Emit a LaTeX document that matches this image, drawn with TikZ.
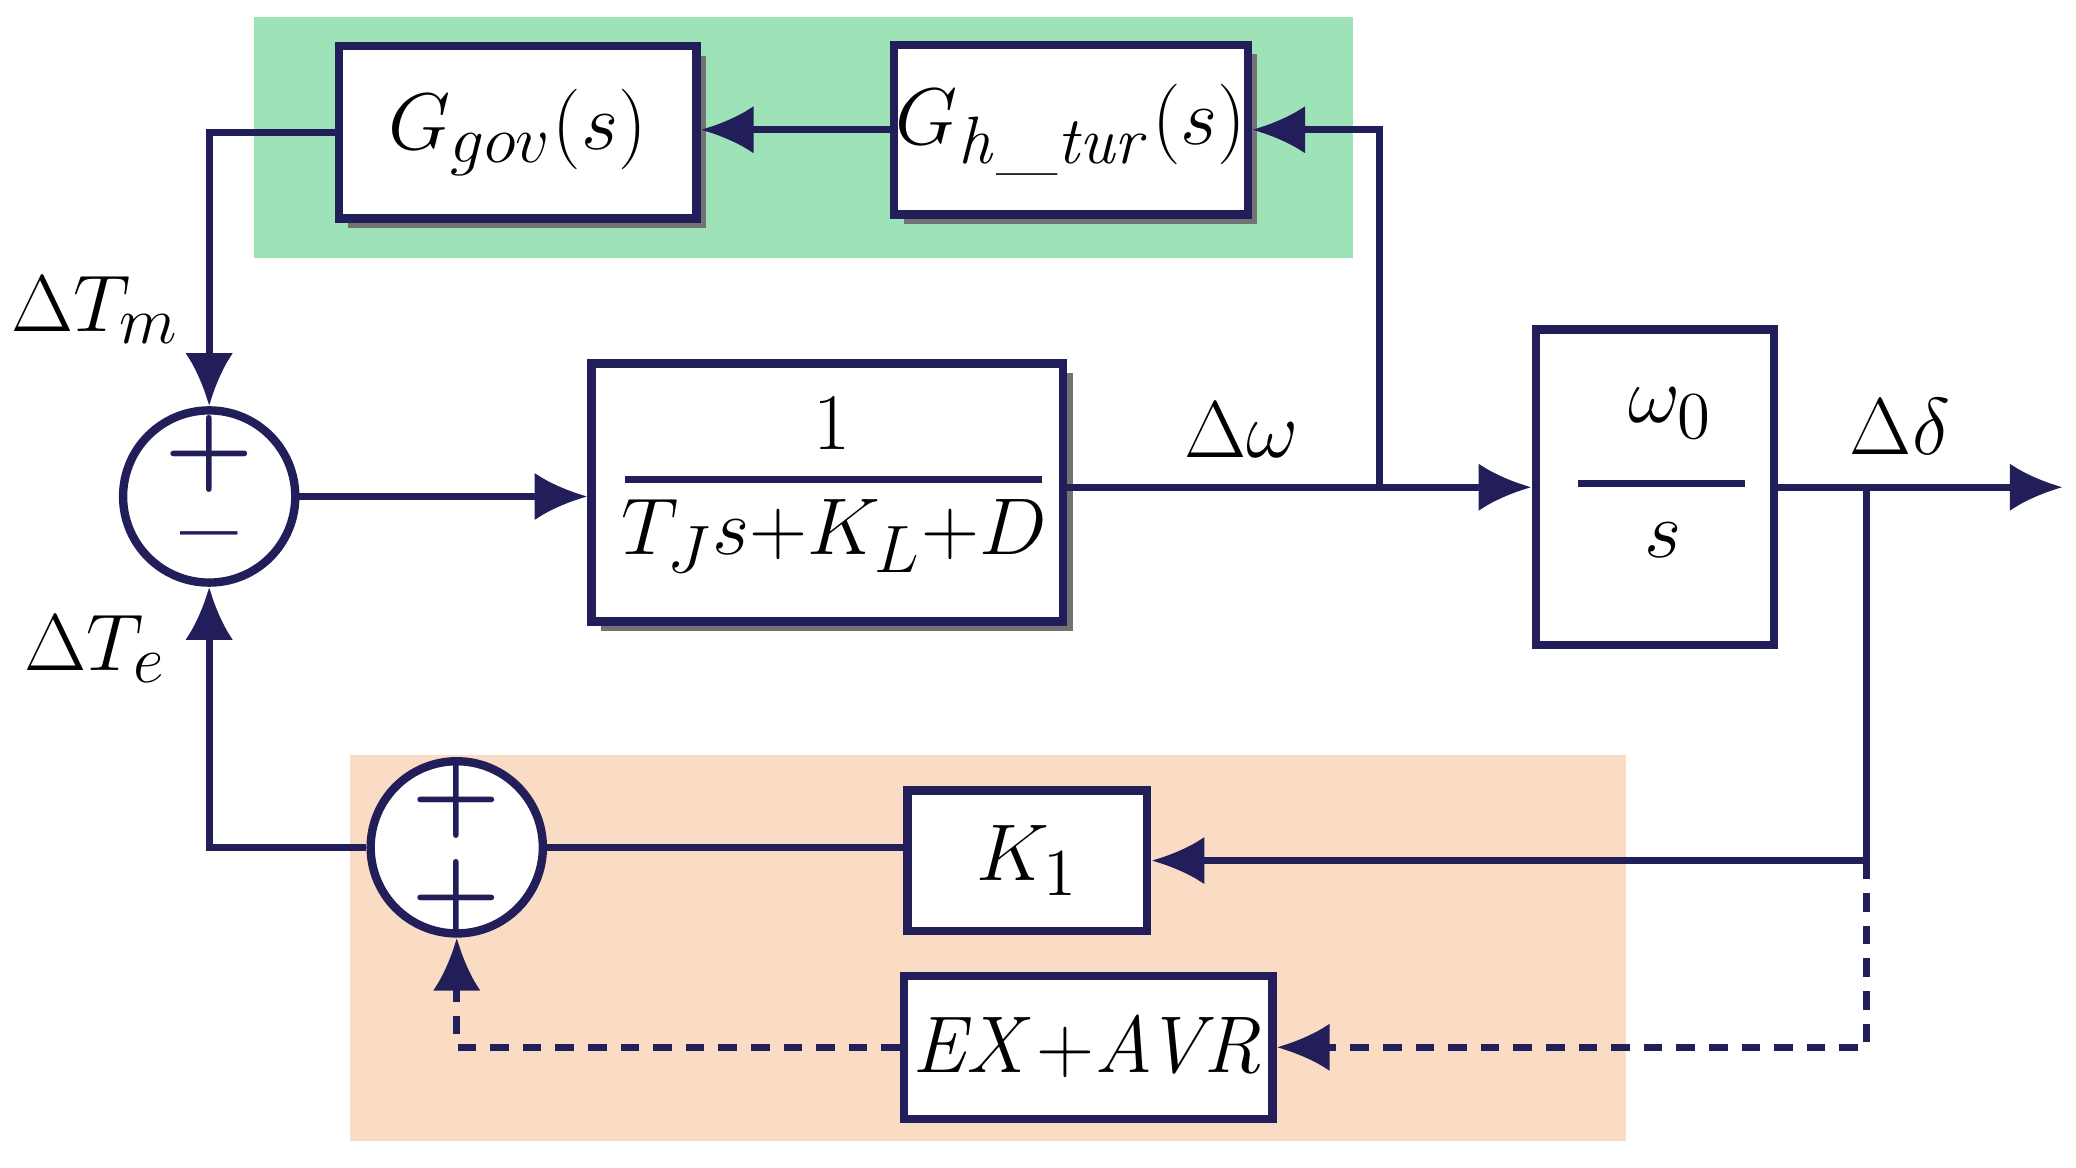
\documentclass[tikz,border=0pt]{standalone}
\usetikzlibrary{arrows.meta,shadows}
\begin{document}
\begin{tikzpicture}[x=0.01cm,y=-0.01cm,
  ln/.style={draw=navy,line width=1.5pt},
  arr/.style={ln,-{Latex[length=0.4cm,width=0.36cm]}},
  dsh/.style={dash pattern=on 4pt off 3pt},
  blk/.style={draw=navy,line width=1.8pt,fill=white,inner sep=0pt,font=\fontsize{19}{22}\selectfont},
  shd/.style={blk,drop shadow={shadow xshift=0.07cm,shadow yshift=-0.07cm,fill=black!55,opacity=1}},
  sum/.style={draw=navy,line width=1.8pt,fill=white,circle,minimum size=1.3cm,inner sep=0pt},
  sgn/.style={navy,font=\fontsize{22}{24}\selectfont\bfseries},
  lbl/.style={font=\fontsize{19}{22}\selectfont}]
\definecolor{navy}{HTML}{221E5A}
\definecolor{gbg}{HTML}{9EE3B8}
\definecolor{pbg}{HTML}{FADCC4}
\useasboundingbox (0,0) rectangle (1568,882);
\fill[gbg] (192,13) rectangle (1022,195);
\fill[pbg] (264,570) rectangle (1228,862);
% blocks
\node[shd,minimum width=2.7cm,minimum height=1.3cm] (gov) at (391,100) {$G_{gov}(s)$};
\node[shd,minimum width=2.67cm,minimum height=1.28cm] (tur) at (809,98) {$G_{\mathit{h\_tur}}(s)$};
\node[shd,minimum width=3.56cm,minimum height=1.95cm] (main) at (625,372) {};
\draw[navy,line width=1.5pt] (472,362) -- (787,362);
\node[lbl] (one) at (628,320) {$1$};
\node[lbl] (den) at (630,405) {$T_J s{+}K_L{+}D$};
\node[blk,minimum width=1.8cm,minimum height=2.38cm] (om) at (1250,368) {};
\draw[navy,line width=1.5pt] (1192,365) -- (1318,365);
\node[lbl] (omn) at (1262,312) {$\omega_0$};
\node[lbl] (oms) at (1256,408) {$s$};
\node[blk,minimum width=1.81cm,minimum height=1.06cm] (k1) at (776,650) {$K_1$};
\node[blk,minimum width=2.78cm,minimum height=1.08cm,font=\fontsize{17}{20}\selectfont] (ex) at (822,791) {$\mathit{EX}{+}\mathit{AVR}$};
\node[sum] (s1) at (158,375) {};
\node[sum] (s2) at (345,640) {};
\node[sgn] (p1) at (158,343) {+};
\node[sgn] (m1) at (158,413) {--};
\node[sgn] (p2) at (345,604) {+};
\node[sgn] (p3) at (345,678) {+};
% coordinates
\coordinate (j1) at (1042,368);
\coordinate (j2) at (1410,368);
\coordinate (j3) at (1410,650);
\coordinate (out) at (1558,368);
% connectors
\draw[arr] (s1.east) -- (main.west |- s1.east);
\draw[arr] (main.east |- j1) -- (om.west |- j1);
\draw[arr] (j1) |- (tur.east);
\draw[arr] (tur.west) -- (gov.east |- tur.west);
\draw[arr] (gov.west) -| (s1.north);
\draw[arr] (om.east |- out) -- (out);
\draw[ln] (j2) -- (j3);
\draw[arr] (j3) -- (k1.east |- j3);
\draw[ln] (k1.west |- s2) -- (s2.east);
\draw[arr] (s2.west) -| (s1.south);
\draw[arr,dsh] (j3) |- (ex.east);
\draw[arr,dsh] (ex.west) -| (s2.south);
% labels
\node[lbl] (tm) at (72,234) {$\Delta T_m$};
\node[lbl] (te) at (72,490) {$\Delta T_e$};
\node[lbl] (dw) at (938,325) {$\Delta\omega$};
\node[lbl] (dd) at (1435,322) {$\Delta\delta$};
\end{tikzpicture}
\end{document}
